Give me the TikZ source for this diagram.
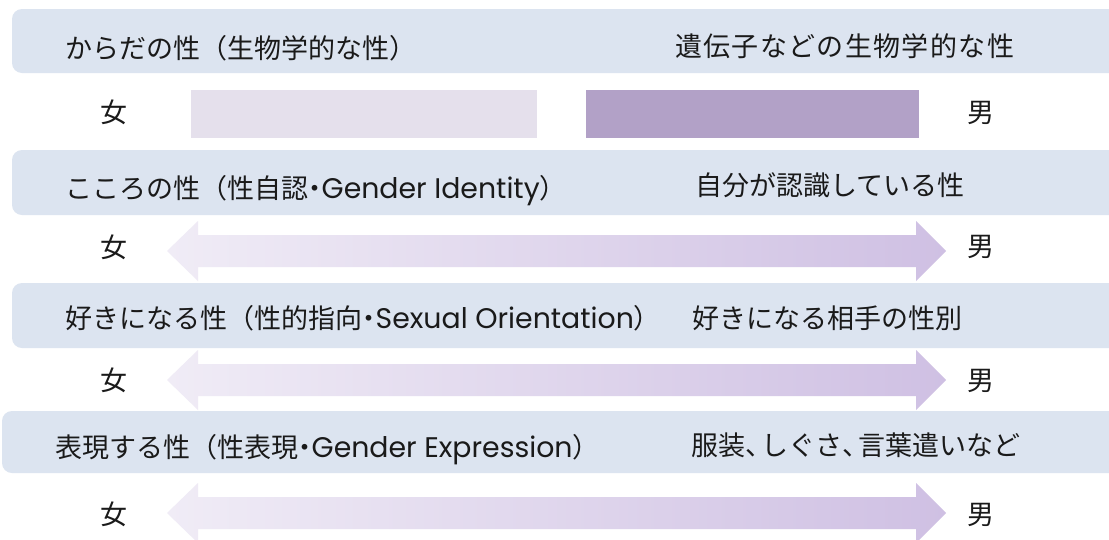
\documentclass[tikz,border=0pt]{standalone}
\usepackage{fontspec}
\setmainfont{Noto Sans CJK JP}
\newfontfamily\latinfont[Scale=1.05]{Poppins}
\definecolor{bandc}{HTML}{DCE4F0}
\definecolor{lightrect}{HTML}{E5E0EC}
\definecolor{darkrect}{HTML}{B2A1C7}
\definecolor{arrL}{HTML}{F0ECF6}
\definecolor{arrR}{HTML}{CFC0E3}
\definecolor{txt}{HTML}{1A1A1A}
\newcommand{\dbarrow}[1]{%
  \shade[left color=arrL, right color=arrR]
    (167,#1) -- (198,#1-30) -- (198,#1-16) -- (916,#1-16) -- (916,#1-30)
    -- (946,#1) -- (916,#1+30) -- (916,#1+16) -- (198,#1+16) -- (198,#1+30) -- cycle;}
\tikzset{
  band/.style={fill=bandc, rounded corners=10pt},
  lbl/.style={anchor=west, inner sep=0pt, text height=23.8pt, text depth=3.2pt,
    font=\fontsize{27}{32}\selectfont, text=txt},
  sexlbl/.style={anchor=center, inner sep=0pt, text height=23.8pt, text depth=3.2pt,
    font=\fontsize{27}{32}\selectfont, text=txt}
}
\begin{document}
\begin{tikzpicture}[x=1pt,y=-1pt]
\clip (0,0) rectangle (1109,539);
\fill[white] (0,0) rectangle (1109,539);
% arrows
\dbarrow{251}
\dbarrow{380}
\dbarrow{513}
% bands
\fill[band] (12,9) rectangle (1135,73);
\fill[band] (12,150) rectangle (1135,215);
\fill[band] (12,283) rectangle (1135,348);
\fill[band] (2,411) rectangle (1135,473);
% row 1 bars
\fill[lightrect] (191,89.5) rectangle (537,137.5);
\fill[darkrect] (586,89.5) rectangle (919,137.5);
% band texts
\node[lbl] (t1l) at (65,48) {からだの性（生物学的な性）};
\node[lbl] (t1r) at (675,46) {\addfontfeature{LetterSpace=5}遺伝子などの生物学的な性};
\node[lbl] (t2l) at (65,188) {こころの性（性自認\kern-0.25em・\kern-0.25em{\latinfont Gender Identity}）};
\node[lbl] (t2r) at (695,185) {自分が認識している性};
\node[lbl] (t3l) at (65,318) {好きになる性（性的指向\kern-0.25em・\kern-0.25em{\latinfont Sexual Orientation}）};
\node[lbl] (t3r) at (692,318) {好きになる相手の性別};
\node[lbl] (t4l) at (55,447) {表現する性（性表現\kern-0.25em・\kern-0.25em{\latinfont Gender Expression}）};
\node[lbl] (t4r) at (691,445) {服装、\kern-0.4em しぐさ、\kern-0.4em 言葉遣いなど};
% female / male labels
\node[sexlbl] (f1) at (114,112) {女};
\node[sexlbl] (m1) at (981,112) {男};
\node[sexlbl] (f2) at (114,247) {女};
\node[sexlbl] (m2) at (981,246) {男};
\node[sexlbl] (f3) at (114,380) {女};
\node[sexlbl] (m3) at (981,380) {男};
\node[sexlbl] (f4) at (114,514) {女};
\node[sexlbl] (m4) at (981,514) {男};
\end{tikzpicture}
\end{document}
